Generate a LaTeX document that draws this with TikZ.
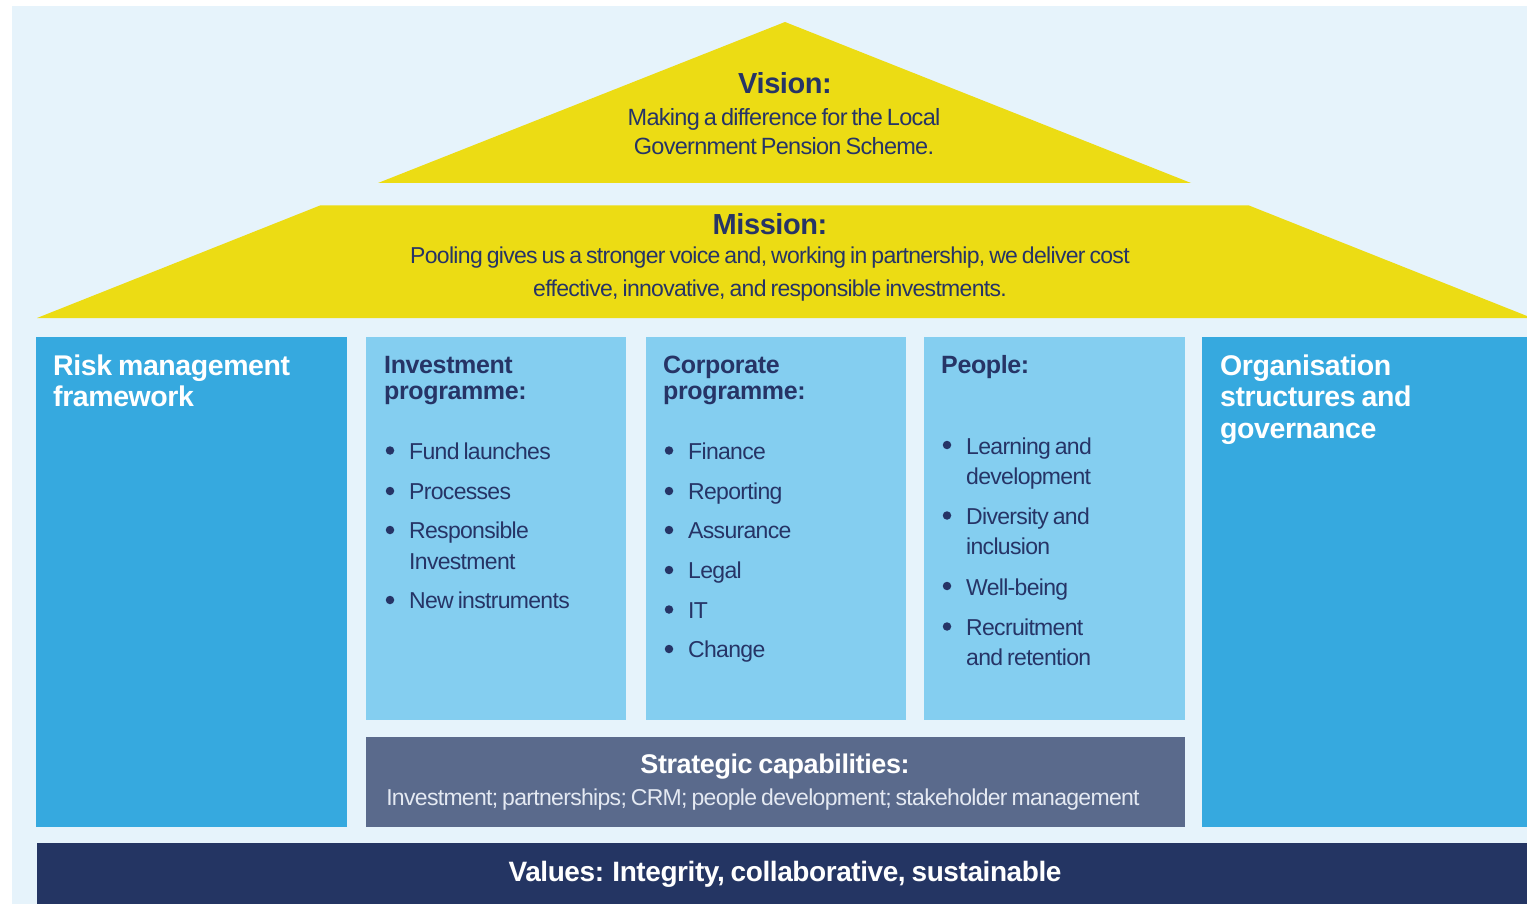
\documentclass[tikz,border=0pt]{standalone}
\usepackage{fontspec}
\setmainfont{Liberation Sans}
\newfontfamily\bodyface{Liberation Sans}[LetterSpace=-3,WordSpace=0.7]
\newfontfamily\headface{Liberation Sans}[LetterSpace=-1.5,WordSpace=0.8]

\definecolor{panel}{HTML}{E6F3FB}
\definecolor{roof}{HTML}{ECDC14}
\definecolor{pillar}{HTML}{36A9DF}
\definecolor{column}{HTML}{84CEF0}
\definecolor{slate}{HTML}{5A6A8C}
\definecolor{navy}{HTML}{243563}
\definecolor{ink}{HTML}{263466}
\definecolor{paleink}{HTML}{E4E9F2}

\tikzset{
  blockbox/.style={anchor=north west, inner sep=0pt, draw=none},
  titletext/.style={inner sep=0pt, text=ink, font=\headface\bfseries\fontsize{29}{34}\selectfont},
  roofbody/.style={inner sep=0pt, text=ink, font=\bodyface\fontsize{23.5}{28}\selectfont},
  bandbody/.style={inner sep=0pt, text=ink, font=\bodyface\fontsize{23}{28}\selectfont},
  pillarhead/.style={inner sep=0pt, anchor=base west, text=white, font=\headface\bfseries\fontsize{28.5}{33}\selectfont},
  colhead/.style={inner sep=0pt, anchor=base west, text=ink, font=\headface\bfseries\fontsize{25}{30}\selectfont},
  itemtext/.style={inner sep=0pt, anchor=base west, text=ink, font=\bodyface\fontsize{23}{28}\selectfont},
  dot/.style={circle, fill=ink, inner sep=0pt, minimum size=8.5pt},
}

\begin{document}
\begin{tikzpicture}[x=1pt, y=-1pt]
\useasboundingbox (0,0) rectangle (1527,904);
\clip (0,0) rectangle (1527,904);

% backdrop
\fill[panel] (12,6) rectangle (1527,904);

% roof: vision triangle and mission band
\fill[roof] (785,22) -- (1191,183) -- (378,183) -- cycle;
\fill[roof] (320,205.5) -- (1249,205.5) -- (1532,318) -- (37,318) -- cycle;

\node[titletext, anchor=base] (vtitle) at (785,94) {Vision:};
\node[roofbody, anchor=base] (vline1) at (784,126) {Making a difference for the Local};
\node[roofbody, anchor=base] (vline2) at (784,155) {Government Pension Scheme.};

\node[titletext, anchor=base] (mtitle) at (770,235) {Mission:};
\node[bandbody, anchor=base] (mline1) at (770,264) {Pooling gives us a stronger voice and, working in partnership, we deliver cost};
\node[bandbody, anchor=base] (mline2) at (770,296.5) {effective, innovative, and responsible investments.};

% outer pillars
\node[blockbox, fill=pillar, minimum width=311pt, minimum height=490pt] (risk) at (36,337) {};
\node[blockbox, fill=pillar, minimum width=330pt, minimum height=490pt] (org) at (1202,337) {};

\node[pillarhead] (riskl1) at (53,375) {Risk management};
\node[pillarhead] (riskl2) at (53,406) {framework};

\node[pillarhead] (orgl1) at (1220,375) {Organisation};
\node[pillarhead] (orgl2) at (1220,406.5) {structures and};
\node[pillarhead] (orgl3) at (1220,438) {governance};

% inner columns
\node[blockbox, fill=column, minimum width=260pt, minimum height=383pt] (invest) at (366,337) {};
\node[blockbox, fill=column, minimum width=260pt, minimum height=383pt] (corp) at (646,337) {};
\node[blockbox, fill=column, minimum width=261pt, minimum height=383pt] (people) at (924,337) {};

% investment programme
\node[colhead] (invh1) at (384,373) {Investment};
\node[colhead] (invh2) at (384,399) {programme:};
\node[dot] (invd1) at (390,450.5) {};
\node[itemtext] (inv1) at (409,459) {Fund launches};
\node[dot] (invd2) at (390,491) {};
\node[itemtext] (inv2) at (409,499.5) {Processes};
\node[dot] (invd3) at (390,530) {};
\node[itemtext] (inv3a) at (409,538.5) {Responsible};
\node[itemtext] (inv3b) at (409,569.5) {Investment};
\node[dot] (invd4) at (390,600) {};
\node[itemtext] (inv4) at (409,608.5) {New instruments};

% corporate programme
\node[colhead] (corh1) at (663,373) {Corporate};
\node[colhead] (corh2) at (663,399) {programme:};
\node[dot] (cord1) at (669,450.5) {};
\node[itemtext] (cor1) at (688,459) {Finance};
\node[dot] (cord2) at (669,491) {};
\node[itemtext] (cor2) at (688,499.5) {Reporting};
\node[dot] (cord3) at (669,530) {};
\node[itemtext] (cor3) at (688,538.5) {Assurance};
\node[dot] (cord4) at (669,570) {};
\node[itemtext] (cor4) at (688,578.5) {Legal};
\node[dot] (cord5) at (669,609.5) {};
\node[itemtext] (cor5) at (688,618) {IT};
\node[dot] (cord6) at (669,649) {};
\node[itemtext] (cor6) at (688,657.5) {Change};

% people
\node[colhead] (peoh) at (941,373) {People:};
\node[dot] (peod1) at (947,445) {};
\node[itemtext] (peo1a) at (966,454) {Learning and};
\node[itemtext] (peo1b) at (966,484) {development};
\node[dot] (peod2) at (947,515.5) {};
\node[itemtext] (peo2a) at (966,524) {Diversity and};
\node[itemtext] (peo2b) at (966,554) {inclusion};
\node[dot] (peod3) at (947,586) {};
\node[itemtext] (peo3) at (966,595) {Well-being};
\node[dot] (peod4) at (947,626.5) {};
\node[itemtext] (peo4a) at (966,635) {Recruitment};
\node[itemtext] (peo4b) at (966,665) {and retention};

% strategic capabilities band
\node[blockbox, fill=slate, minimum width=819pt, minimum height=90pt] (strat) at (366,737) {};
\node[inner sep=0pt, anchor=base, text=white, font=\headface\bfseries\fontsize{27}{32}\selectfont] (strath) at (775,773) {Strategic capabilities:};
\node[inner sep=0pt, anchor=base, text=paleink, font=\bodyface\fontsize{23}{28}\selectfont] (stratl) at (763,805) {Investment; partnerships; CRM; people development; stakeholder management};

% values foundation
\node[blockbox, fill=navy, minimum width=1495pt, minimum height=62pt] (values) at (37,843) {};
\node[inner sep=0pt, anchor=base, text=white, font=\headface\bfseries\fontsize{28}{33}\selectfont] (valtext) at (785,881) {Values: Integrity, collaborative, sustainable};
\end{tikzpicture}
\end{document}
